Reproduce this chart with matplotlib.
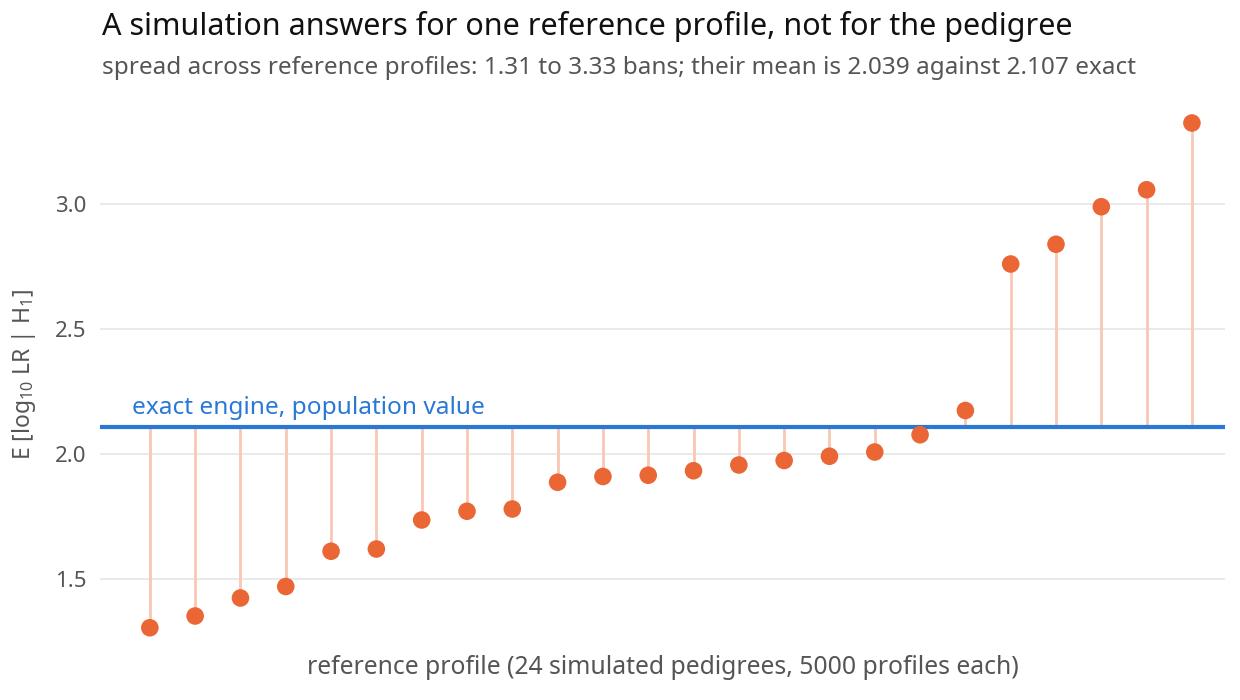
import matplotlib
matplotlib.use("Agg")
import matplotlib.pyplot as plt
import numpy as np

plt.rcParams['font.family'] = ['Noto Sans', 'DejaVu Sans']
plt.rcParams['mathtext.fontset'] = 'custom'
plt.rcParams['mathtext.rm'] = 'Noto Sans'
plt.rcParams['mathtext.it'] = 'Noto Sans:italic'
plt.rcParams['mathtext.bf'] = 'Noto Sans:bold'

profile_index = list(range(1, 25))
e_log10_lr = [1.305, 1.352, 1.424, 1.470, 1.611, 1.620, 1.736, 1.771, 1.780,
              1.887, 1.910, 1.915, 1.933, 1.956, 1.974, 1.991, 2.008, 2.077,
              2.174, 2.760, 2.839, 2.989, 3.057, 3.324]
exact_value = 2.107
y_ticks = [1.5, 2.0, 2.5, 3.0]
y_tick_labels = ["1.5", "2.0", "2.5", "3.0"]

title = "A simulation answers for one reference profile, not for the pedigree"
subtitle = "spread across reference profiles: 1.31 to 3.33 bans; their mean is 2.039 against 2.107 exact"
xlabel = "reference profile (24 simulated pedigrees, 5000 profiles each)"
ylabel = r"E [log$_\mathrm{10}$ LR | H$_\mathrm{1}$]"
line_label = "exact engine, population value"

orange = "#EA6635"
seg_color = "#F8C8B5"
blue = "#2A78D6"
grey_text = "#555555"

fig = plt.figure(figsize=(12.4, 7.0), dpi=100)
ax = fig.add_axes([100/1240, 55/700, 1125/1240, 540/700])

ax.vlines(profile_index, exact_value, e_log10_lr, color=seg_color, lw=2, zorder=2)
ax.axhline(exact_value, color=blue, lw=3, zorder=3)
ax.scatter(profile_index, e_log10_lr, s=160, color=orange, zorder=4, edgecolors='none')

ax.set_xlim(-0.1, 24.73)
ax.set_ylim(1.236, 3.396)
ax.set_yticks(y_ticks)
ax.set_yticklabels(y_tick_labels)
ax.set_xticks([])
ax.grid(axis='y', color='#E6E6E6', lw=1.2, zorder=0)
ax.set_axisbelow(True)
for s in ax.spines.values():
    s.set_visible(False)
ax.tick_params(axis='y', length=0, labelsize=16, labelcolor=grey_text, pad=10)

ax.text(0.6, exact_value + 0.03, line_label, color=blue, fontsize=17.6,
        ha='left', va='bottom')

ax.set_ylabel(ylabel, fontsize=16.5, color=grey_text, labelpad=12)
fig.text(0.5 * (100 + 1225) / 1240, 1 - 668/700, xlabel, ha='center', va='center',
         fontsize=17.8, color=grey_text)

fig.text(102/1240, 1 - 27/700, title, fontsize=22, color='#111111', ha='left', va='center')
fig.text(102/1240, 1 - 68/700, subtitle, fontsize=17.5, color=grey_text, ha='left', va='center')

fig.savefig("out.png", dpi=100, facecolor='white')
